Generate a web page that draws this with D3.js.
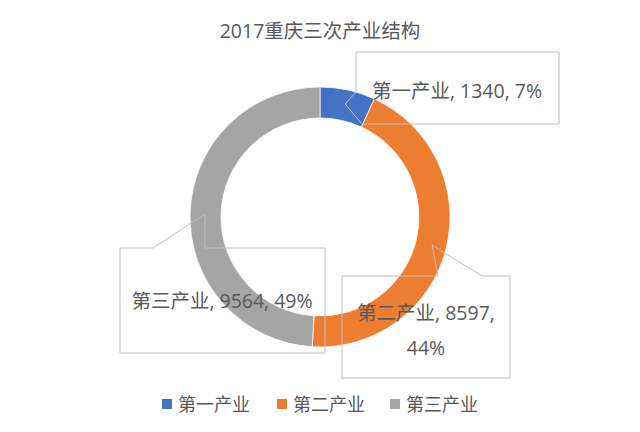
<!DOCTYPE html>
<html><head><meta charset="utf-8">
<script src="https://cdn.jsdelivr.net/npm/d3@7"></script>
<style>
html,body{margin:0;padding:0;background:#fff;}
text{font-family:"Open Sans","Noto Sans CJK SC","Microsoft YaHei",sans-serif;fill:#595959;}
</style></head>
<body><svg id="chart" width="640" height="432"></svg>
<script>
const title = "2017重庆三次产业结构";
const categories = ["第一产业", "第二产业", "第三产业"];
const values = [1340, 8597, 9564];
const percents = ["7%", "44%", "49%"];
const colors = ["#4472C4", "#ED7D31", "#A5A5A5"];

const svg = d3.select("#chart");
const W = 640, H = 432;
const cx = 320, cy = 217, rOuter = 130, rInner = 99;

svg.append("text").attr("x", W/2).attr("y", 30).attr("text-anchor","middle")
  .attr("dominant-baseline","central").style("font-size","19.5px").text(title);

const pie = d3.pie().sort(null).value(d => d.v);
const data = categories.map((c,i)=>({c, v: values[i], p: percents[i], col: colors[i]}));
const arcs = pie(data);
const arc = d3.arc().innerRadius(rInner).outerRadius(rOuter);

const g = svg.append("g").attr("transform", `translate(${cx},${cy})`);
g.selectAll("path").data(arcs).join("path")
  .attr("d", arc).attr("fill", d => d.data.col)
  .attr("stroke", "#fff").attr("stroke-width", 0.75);

// callouts (layout)
const callouts = [
  { pts: [[356,52],[559,52],[559,124],[362,124],[345,104],[356,92]],
    lines: [d => `${d.c}, ${d.v}, ${d.p}`], x: 457, y: [90] },
  { pts: [[342,276],[438,276],[432,245],[482,276],[510,276],[510,378],[342,378]],
    lines: [d => `${d.c}, ${d.v},`, d => d.p], x: 426, y: [312, 347] },
  { pts: [[120,248],[153,248],[205,214],[205,248],[325,248],[325,353],[120,353]],
    lines: [d => `${d.c}, ${d.v}, ${d.p}`], x: 222, y: [300] }
];
const line = d3.line();
callouts.forEach((co, i) => {
  svg.append("path").attr("d", line(co.pts) + "Z")
    .attr("fill","none").attr("stroke","#BFBFBF").attr("stroke-width",1);
  co.lines.forEach((fn, j) => {
    svg.append("text").attr("x", co.x).attr("y", co.y[j])
      .attr("text-anchor","middle").attr("dominant-baseline","central")
      .style("font-size","19.5px").text(fn(data[i]));
  });
});

// legend
const legendX = [162, 277, 390];
const lg = svg.append("g");
data.forEach((d,i) => {
  lg.append("rect").attr("x", legendX[i]).attr("y", 399).attr("width", 10).attr("height", 10).attr("fill", d.col);
  lg.append("text").attr("x", legendX[i] + 16).attr("y", 404).attr("dominant-baseline","central")
    .style("font-size","18px").text(d.c);
});
</script></body></html>
